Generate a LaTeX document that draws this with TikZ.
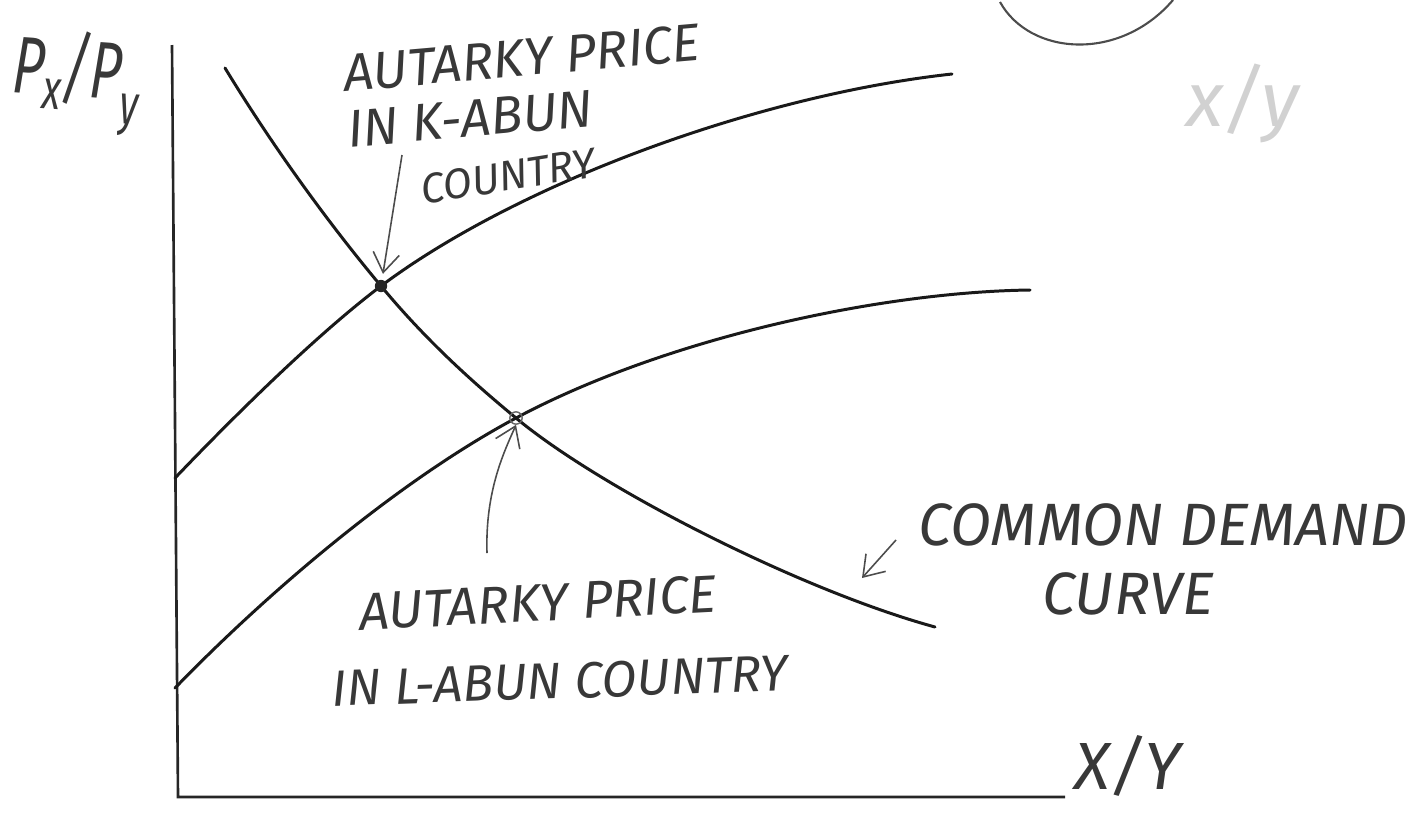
\documentclass[tikz,border=0pt]{standalone}
\usepackage{graphicx}
\usepackage{fontspec}
\newfontfamily\handfont{Fira Sans}
\usetikzlibrary{arrows.meta}
\newcommand{\hsz}[1]{\handfont\itshape\fontsize{#1}{#1}\selectfont}
\begin{document}
\begin{tikzpicture}[x=0.02cm,y=-0.02cm,
  axis/.style={line width=1.5pt, black!85},
  curve/.style={line width=1.7pt, line cap=round, black!90},
  hand/.style={inner sep=0pt, text=black!78},
  pointer/.style={line width=0.9pt, black!70, -{Straight Barb[length=11pt,width=15pt]}}]
\useasboundingbox (0,0) rectangle (1412,812);
% stray circle fragment at top
\coordinate (c1) at (1000,2);
\coordinate (c2) at (1173,0);
\draw[line width=1.2pt, black!70] (c1) .. controls (1030,56) and (1120,62) .. (c2);
% faint mark top right
\node[hand, text=black!18, font=\hsz{44}] (faint) at (1243,103) {x/y};
% axes
\coordinate (o) at (178,797);
\coordinate (ytop) at (172,45);
\coordinate (xend) at (1065,797);
\draw[axis] (ytop) -- (o) -- (xend);
% key points
\coordinate (A) at (175,478);
\coordinate (E) at (952,74);
\coordinate (B) at (175,688);
\coordinate (F) at (1030,290);
\coordinate (D) at (225,68);
\coordinate (G) at (935,627);
\coordinate (K) at (381,286);
\coordinate (L) at (516,418);
% supply-side curves
\draw[curve] (A) .. controls (240,410) and (320,332) .. (K) .. controls (520,182) and (760,95) .. (E);
\draw[curve] (B) .. controls (270,590) and (400,480) .. (L) .. controls (666,338) and (880,292) .. (F);
% common demand curve
\draw[curve] (D) .. controls (275,150) and (330,225) .. (K) .. controls (425,339) and (470,380) .. (L) .. controls (600,488) and (800,590) .. (G);
% equilibrium points
\node[circle, fill=black!85, inner sep=0pt, minimum size=7pt] (kdot) at (K) {};
\node[circle, draw=black!60, line width=0.8pt, inner sep=0pt, minimum size=7pt] (ldot) at (L) {};
% axis labels
\node[hand, font=\hsz{40}, rotate=-4] (ylab) at (76,82) {\scalebox{0.78}[1.15]{P\raisebox{-7pt}{\fontsize{28}{28}\selectfont x}/P\raisebox{-12pt}{\fontsize{28}{28}\selectfont y}}};
\node[hand, font=\hsz{38}] (xlab) at (1128,766) {X/Y};
% K-abundant label
\node[hand, font=\hsz{30}, rotate=5] (k1) at (522,58) {AUTARKY PRICE};
\node[hand, font=\hsz{30}, rotate=5] (k2) at (470,119) {IN K-ABUN};
\node[hand, font=\hsz{24}, rotate=9] (k3) at (508,176) {COUNTRY};
\coordinate (kt) at (402,155);
\draw[pointer, shorten >=7pt] (kt) -- (kdot.center);
% L-abundant label
\node[hand, font=\hsz{30}, rotate=3] (l1) at (538,603) {AUTARKY PRICE};
\node[hand, font=\hsz{29}, rotate=2] (l2) at (560,681) {IN L-ABUN COUNTRY};
\coordinate (lt) at (487,553);
\draw[pointer] (lt) .. controls (485,490) and (505,450) .. (ldot.south);
% common demand label
\node[hand, font=\hsz{34}] (d1) at (1163,525) {COMMON DEMAND};
\node[hand, font=\hsz{34}] (d2) at (1128,594) {CURVE};
\coordinate (dt) at (896,540);
\coordinate (dh) at (862,578);
\draw[pointer] (dt) -- (dh);
\end{tikzpicture}
\end{document}
